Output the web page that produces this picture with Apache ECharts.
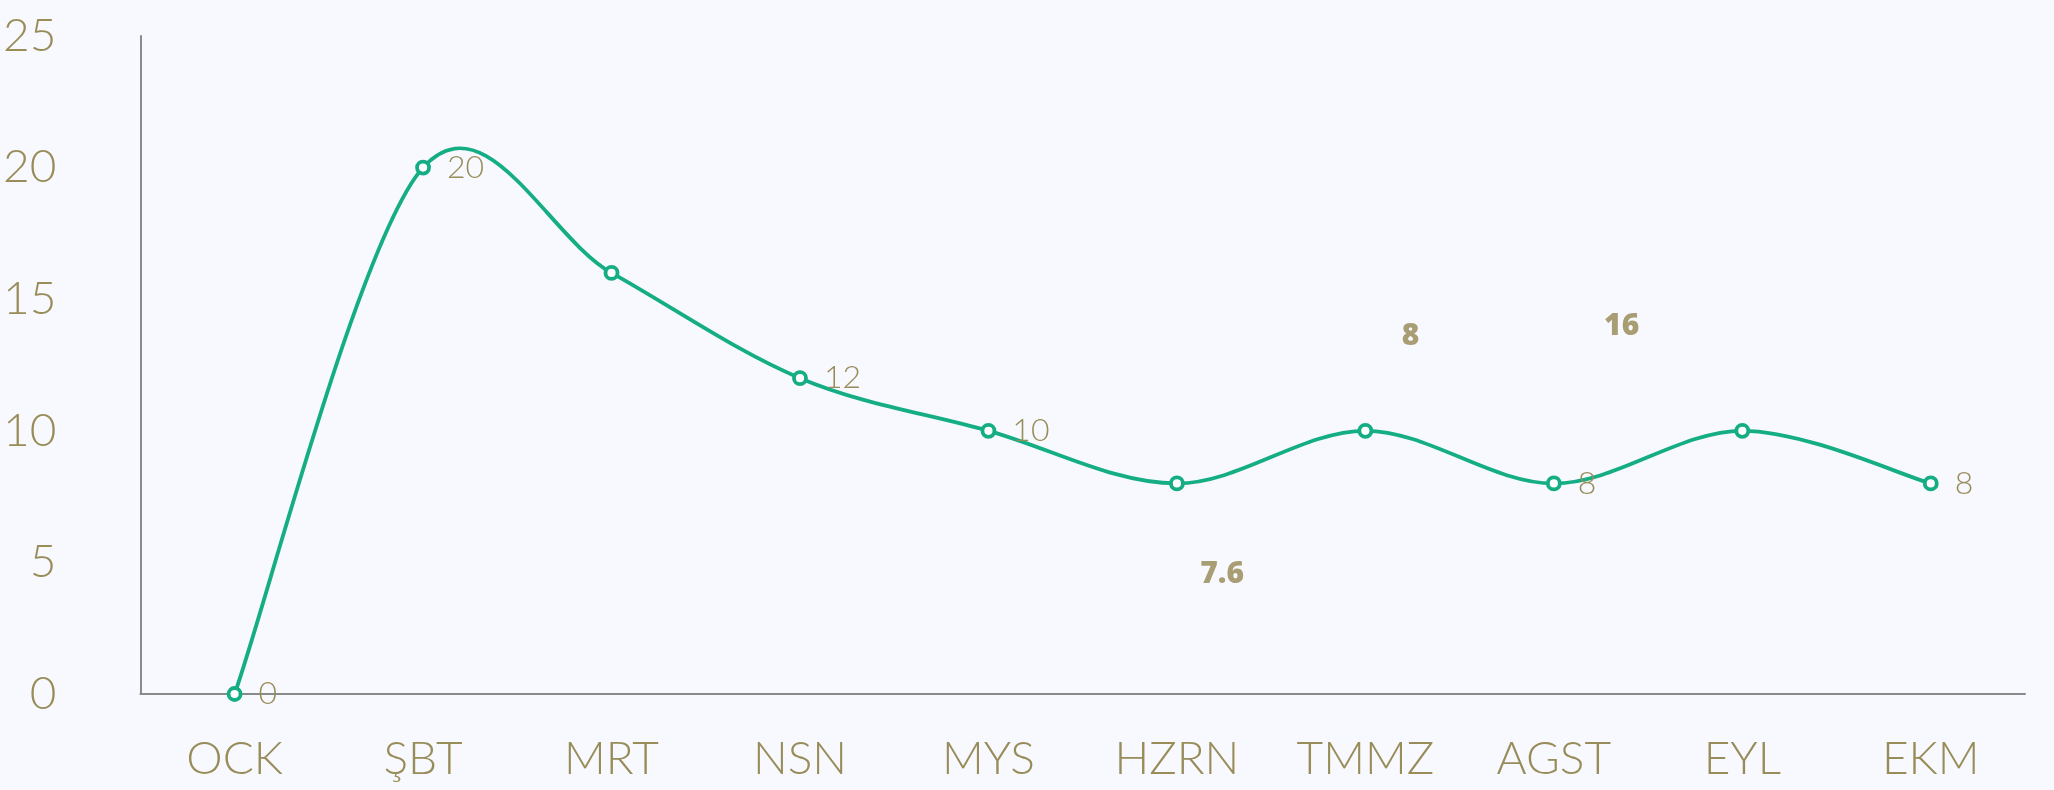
<!DOCTYPE html>
<html>
<head>
<meta charset="utf-8">
<script src="https://cdn.jsdelivr.net/npm/echarts@6/dist/echarts.min.js"></script>
<style>
html,body{margin:0;padding:0;background:#f7f9fe;}
#chart{width:2054px;height:790px;}
</style>
</head>
<body>
<div id="chart"></div>
<script>
var categories = ['OCK', 'ŞBT', 'MRT', 'NSN', 'MYS', 'HZRN', 'TMMZ', 'AGST', 'EYL', 'EKM'];
var values = [0, 20, 16, 12, 10, 8, 10, 8, 10, 8];
var showLabel = [true, true, false, true, true, false, false, true, false, true];
var yTicks = {min: 0, max: 25, interval: 5};
var annoX = [5.24, 6.24, 7.36];
var annoY = [4.55, 13.58, 13.95];
var annoText = ['7.6', '8', '16'];

var textColor = '#988c59';
var lineColor = '#14ad84';

// Catmull-Rom style smoothing of the line drawn through the axis coordinates
function renderSegment(params, api) {
  var i = params.dataIndex;
  var n = values.length;
  if (i >= n - 1) return null;
  function pt(j) {
    j = Math.max(0, Math.min(n - 1, j));
    return api.coord([j, values[j]]);
  }
  var p0 = pt(i - 1), p1 = pt(i), p2 = pt(i + 1), p3 = pt(i + 2);
  var k = 1 / 6;
  return {
    type: 'bezierCurve',
    shape: {
      x1: p1[0], y1: p1[1], x2: p2[0], y2: p2[1],
      cpx1: p1[0] + (p2[0] - p0[0]) * k,
      cpy1: p1[1] + (p2[1] - p0[1]) * k,
      cpx2: p2[0] - (p3[0] - p1[0]) * k,
      cpy2: p2[1] - (p3[1] - p1[1]) * k
    },
    style: {stroke: lineColor, lineWidth: 3.8, fill: null, lineCap: 'round'}
  };
}

var chart = echarts.init(document.getElementById('chart'));
chart.setOption({
  backgroundColor: '#f7f9fe',
  animation: false,
  grid: {left: 140, right: 29, top: 36, bottom: 96},
  xAxis: [{
    type: 'category',
    data: categories,
    boundaryGap: true,
    axisLine: {show: true, lineStyle: {color: '#8a8a8a', width: 2}},
    axisTick: {show: false},
    axisLabel: {color: textColor, fontFamily: 'Lato', fontWeight: 300, fontSize: 46, margin: 42}
  }, {
    type: 'value',
    min: -0.5, max: 9.5,
    show: false
  }],
  yAxis: {
    type: 'value',
    min: yTicks.min, max: yTicks.max, interval: yTicks.interval,
    axisLine: {show: true, onZero: false, lineStyle: {color: '#8a8a8a', width: 2}},
    axisTick: {show: false},
    splitLine: {show: false},
    axisLabel: {color: textColor, fontFamily: 'Lato', fontWeight: 300, fontSize: 46, margin: 84}
  },
  series: [{
    type: 'custom',
    renderItem: renderSegment,
    data: values.map(function (v, i) { return [i, v]; }),
    z: 2,
    silent: true
  }, {
    type: 'line',
    data: values.map(function (v, i) {
      return {value: v, label: {show: showLabel[i]}};
    }),
    symbol: 'circle',
    symbolSize: 12,
    showAllSymbol: true,
    z: 3,
    lineStyle: {opacity: 0},
    itemStyle: {color: '#ffffff', borderColor: lineColor, borderWidth: 3.8},
    label: {position: 'right', distance: 16, color: textColor, fontFamily: 'Lato', fontWeight: 300, fontSize: 32}
  }, {
    type: 'scatter',
    xAxisIndex: 1,
    symbolSize: 0,
    data: annoX.map(function (x, i) { return [x, annoY[i], annoText[i]]; }),
    label: {
      show: true, position: 'inside',
      formatter: function (p) { return p.data[2]; },
      color: '#938650', fontFamily: 'Open Sans', fontWeight: 800, fontSize: 30
    }
  }]
});
</script>
</body>
</html>
